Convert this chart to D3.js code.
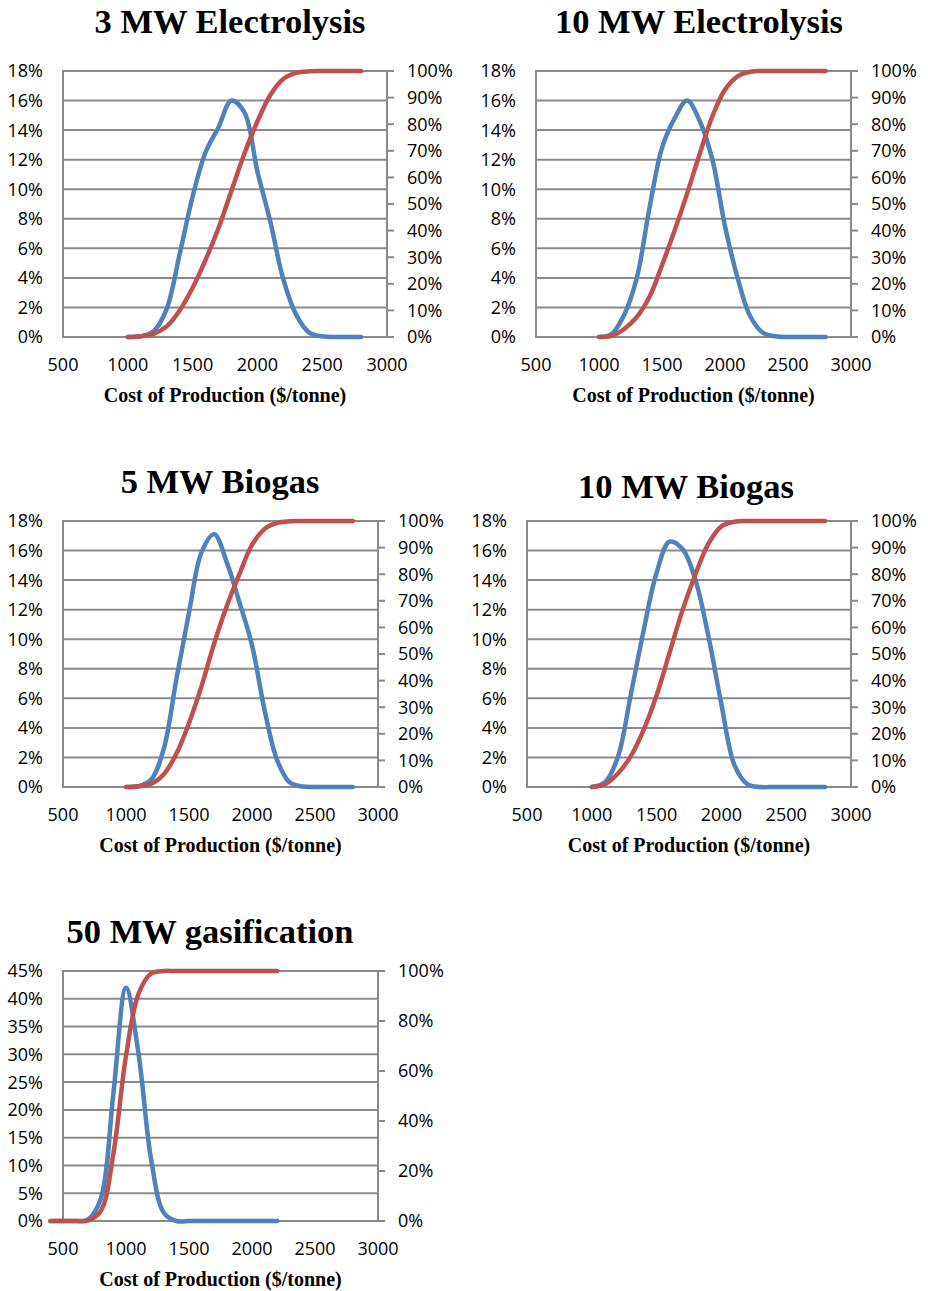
<!DOCTYPE html>
<html><head><meta charset="utf-8">
<script src="https://cdn.jsdelivr.net/npm/d3@7/dist/d3.min.js"></script>
<style>
body{margin:0;background:#fff;}
svg{display:block;}
</style></head>
<body>
<svg id="chart" width="928" height="1291"></svg>
<script>
// ---------- DATA ----------
const panelTitles = ["3 MW Electrolysis","10 MW Electrolysis","5 MW Biogas","10 MW Biogas","50 MW gasification"];
const xTicks = [500,1000,1500,2000,2500,3000];
const leftTicksA = [0,2,4,6,8,10,12,14,16,18];
const rightTicksA = [0,10,20,30,40,50,60,70,80,90,100];
const leftTicksB = [0,5,10,15,20,25,30,35,40,45];
const rightTicksB = [0,20,40,60,80,100];
const xAxisTitle = "Cost of Production ($/tonne)";

const costs = [1000,1100,1200,1300,1400,1500,1600,1700,1800,1900,2000,2100,2200,2300,2400,2500,2600,2700,2800];
const costsGas = [400,500,600,700,800,900,1000,1100,1200,1300,1400,1500,1600,1700,1800,1900,2000,2100,2200];

const pdf3MWElec = [0,0.05,0.4,1.9,5.6,9.5,12.5,14.2,16.0,15.2,11.2,7.8,3.9,1.5,0.3,0.05,0,0,0];
const cdf3MWElec = [0,0.3,1.2,4,10,18.5,29,41,55,69,81,91,97,99.3,99.9,100,100,100,100];

const pdf10MWElec = [0,0.2,1.5,4.0,8.7,12.8,14.8,16.0,14.6,12.0,7.5,4.0,1.4,0.3,0.05,0,0,0,0];
const cdf10MWElec = [0,0.4,3,7.5,15,27,40,54,69,83,93,98,99.7,100,100,100,100,100,100];

const pdf5MWBio = [0,0.05,0.5,2.6,7.3,11.8,15.9,17.1,15.2,12.5,9.6,5.2,1.8,0.3,0.03,0,0,0,0];
const cdf5MWBio = [0,0.3,1.2,4.8,12.5,24,38,54,68,80,91,97,99.3,99.9,100,100,100,100,100];

const pdf10MWBio = [0,0.3,2.0,6.2,10.6,14.5,16.6,16.1,14.0,10.2,5.6,1.5,0.2,0,0,0,0,0,0];
const cdf10MWBio = [0,1,5,11.5,21.5,34.5,50.5,66.5,80,91.5,98,99.7,100,100,100,100,100,100,100];

const pdf50MWGas = [0,0,0,0.3,4,23,42,30,11,1.5,0,0,0,0,0,0,0,0,0];
const cdf50MWGas = [0,0,0,0.2,4,27,66,91,99,100,100,100,100,100,100,100,100,100,100];

// ---------- LAYOUT ----------
const panels = [
  {title:panelTitles[0], x:costs, pdf:pdf3MWElec, cdf:cdf3MWElec, left:63, right:387, top:71, bottom:337, titleX:230, titleY:33, lt:leftTicksA, lmax:18, rt:rightTicksA},
  {title:panelTitles[1], x:costs, pdf:pdf10MWElec, cdf:cdf10MWElec, left:536, right:851, top:71, bottom:337, titleX:699, titleY:33, lt:leftTicksA, lmax:18, rt:rightTicksA},
  {title:panelTitles[2], x:costs, pdf:pdf5MWBio, cdf:cdf5MWBio, left:63, right:378, top:521, bottom:787, titleX:220, titleY:493, lt:leftTicksA, lmax:18, rt:rightTicksA},
  {title:panelTitles[3], x:costs, pdf:pdf10MWBio, cdf:cdf10MWBio, left:527, right:851, top:521, bottom:787, titleX:686, titleY:498, lt:leftTicksA, lmax:18, rt:rightTicksA},
  {title:panelTitles[4], x:costsGas, pdf:pdf50MWGas, cdf:cdf50MWGas, left:63, right:378, top:971, bottom:1221, titleX:210, titleY:943, lt:leftTicksB, lmax:45, rt:rightTicksB}
];

const svg = d3.select("#chart");
const gridColor = "#8a8a8a";
const labelFont = "'Open Sans', sans-serif";
const serifFont = "'Liberation Serif', 'Times New Roman', serif";

panels.forEach(p => {
  const g = svg.append("g");
  const x = d3.scaleLinear().domain([500,3000]).range([p.left,p.right]);
  const yL = d3.scaleLinear().domain([0,p.lmax]).range([p.bottom,p.top]);
  const yR = d3.scaleLinear().domain([0,100]).range([p.bottom,p.top]);

  // title
  g.append("text").attr("x",p.titleX).attr("y",p.titleY)
    .attr("text-anchor","middle").attr("font-family",serifFont)
    .attr("font-weight","bold").attr("font-size",34.5).attr("fill","#000").text(p.title);

  // gridlines
  g.selectAll(".grid").data(p.lt).enter().append("line")
    .attr("x1",p.left).attr("x2",p.right)
    .attr("y1",d=>yL(d)).attr("y2",d=>yL(d))
    .attr("stroke",gridColor).attr("stroke-width",2);

  // left & right axis lines
  g.append("line").attr("x1",p.left).attr("x2",p.left).attr("y1",p.top-1).attr("y2",p.bottom+1)
    .attr("stroke",gridColor).attr("stroke-width",2);
  g.append("line").attr("x1",p.right).attr("x2",p.right).attr("y1",p.top-1).attr("y2",p.bottom+1)
    .attr("stroke",gridColor).attr("stroke-width",2);

  // right ticks
  g.selectAll(".rtick").data(p.rt).enter().append("line")
    .attr("x1",p.right).attr("x2",p.right+7)
    .attr("y1",d=>yR(d)).attr("y2",d=>yR(d))
    .attr("stroke",gridColor).attr("stroke-width",2);

  // left labels
  g.selectAll(".ll").data(p.lt).enter().append("text")
    .attr("x",p.left-20).attr("y",d=>yL(d)).attr("dy","0.36em")
    .attr("text-anchor","end").attr("font-family",labelFont).attr("font-size",18)
    .attr("fill","#000").text(d=>d+"%");

  // right labels
  g.selectAll(".rl").data(p.rt).enter().append("text")
    .attr("x",p.right+20).attr("y",d=>yR(d)).attr("dy","0.36em")
    .attr("text-anchor","start").attr("font-family",labelFont).attr("font-size",18)
    .attr("fill","#000").text(d=>d+"%");

  // x labels
  g.selectAll(".xl").data(xTicks).enter().append("text")
    .attr("x",d=>x(d)).attr("y",p.bottom+34)
    .attr("text-anchor","middle").attr("font-family",labelFont).attr("font-size",18)
    .attr("fill","#000").text(d=>d);

  // x axis title
  g.append("text").attr("x",(p.left+p.right)/2).attr("y",p.bottom+65)
    .attr("text-anchor","middle").attr("font-family",serifFont)
    .attr("font-weight","bold").attr("font-size",20).attr("fill","#000").text(xAxisTitle);

  // series
  const pdfLine = d3.line().x((d,i)=>x(p.x[i])).y(d=>yL(d)).curve(d3.curveCatmullRom.alpha(0.5));
  const cdfLine = d3.line().x((d,i)=>x(p.x[i])).y(d=>yR(d)).curve(d3.curveCatmullRom.alpha(0.5));
  g.append("path").datum(p.pdf).attr("d",pdfLine).attr("fill","none")
    .attr("stroke","#4F81BD").attr("stroke-width",4.5).attr("stroke-linejoin","round").attr("stroke-linecap","round");
  g.append("path").datum(p.cdf).attr("d",cdfLine).attr("fill","none")
    .attr("stroke","#C0504D").attr("stroke-width",4.5).attr("stroke-linejoin","round").attr("stroke-linecap","round");
});
</script>
</body></html>
